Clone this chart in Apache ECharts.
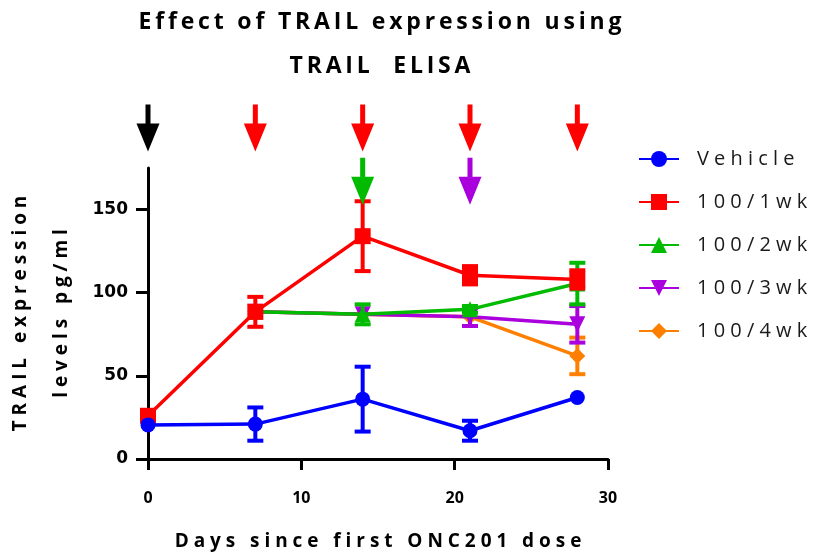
<!DOCTYPE html>
<html>
<head>
<meta charset="utf-8">
<script src="https://cdn.jsdelivr.net/npm/echarts@6/dist/echarts.min.js"></script>
<style>html,body{margin:0;padding:0;background:#fff;}#c{width:825px;height:553px;}</style>
</head>
<body>
<div id="c"></div>
<script>
// ---- data ----
const seriesNames = ['Vehicle', '100/1wk', '100/2wk', '100/3wk', '100/4wk'];
const vehicleDays = [0, 7, 14, 21, 28];
const vehicleMean = [20.5, 21, 36, 17, 37];
const vehicleSem  = [0, 10, 19.5, 6, 0];
const wk1Days = [0, 7, 14, 21, 28];
const wk1Mean = [26, 88.5, 134, 110.5, 108];
const wk1Sem  = [0, 9, 21, 5.5, 5.5];
const wk2Days = [7, 14, 21, 28];
const wk2Mean = [88.5, 87, 90, 105.5];
const wk2Sem  = [0, 6, 2, 12.5];
const wk3Days = [7, 14, 21, 28];
const wk3Mean = [88.5, 87, 85.5, 81];
const wk3Sem  = [0, 0, 5.5, 11];
const wk4Days = [7, 14, 21, 28];
const wk4Mean = [88.5, 87, 85.5, 62];
const wk4Sem  = [0, 0, 0, 11];
const xTicks = [0, 10, 20, 30];
const yTicks = [0, 50, 100, 150];
// dosing arrows
const doseDaysFirst = [0];
const doseDays1wk = [7, 14, 21, 28];
const doseDays2wk = [14];
const doseDays3wk = [21];

const colors = ['#0000ff', '#ff0000', '#00bb00', '#aa00dd', '#ff8000'];
const symbols = ['circle', 'rect', 'triangle', 'path://M0,0 L10,0 L5,9 Z', 'diamond'];
const zOrder = [7, 6, 5, 4, 3];

const sp = (s, sep) => s.split('').join(sep);
const TS = '\u2009';

const groups = [
  [vehicleDays, vehicleMean, vehicleSem],
  [wk1Days, wk1Mean, wk1Sem],
  [wk2Days, wk2Mean, wk2Sem],
  [wk3Days, wk3Mean, wk3Sem],
  [wk4Days, wk4Mean, wk4Sem]
];

const series = [];
groups.forEach((g, i) => {
  const [d, m, s] = g;
  const errData = [];
  d.forEach((x, k) => { if (s[k] > 0) errData.push([x, m[k] - s[k], m[k] + s[k]]); });
  series.push({
    type: 'custom',
    name: 'err' + i,
    z: zOrder[i],
    silent: true,
    renderItem: function (params, api) {
      const x = api.value(0);
      const p1 = api.coord([x, api.value(1)]);
      const p2 = api.coord([x, api.value(2)]);
      const w = 8;
      const st = { stroke: colors[i], lineWidth: 4 };
      return {
        type: 'group',
        children: [
          { type: 'line', shape: { x1: p1[0], y1: p1[1], x2: p2[0], y2: p2[1] }, style: st },
          { type: 'line', shape: { x1: p1[0] - w, y1: p1[1], x2: p1[0] + w, y2: p1[1] }, style: st },
          { type: 'line', shape: { x1: p2[0] - w, y1: p2[1], x2: p2[0] + w, y2: p2[1] }, style: st }
        ]
      };
    },
    encode: { x: 0, y: [1, 2] },
    data: errData
  });
  series.push({
    type: 'line',
    name: seriesNames[i],
    z: zOrder[i],
    data: d.map((x, k) => [x, m[k]]),
    symbol: symbols[i],
    symbolSize: i === 0 ? 15 : 16,
    showAllSymbol: true,
    lineStyle: { color: colors[i], width: 3.5 },
    itemStyle: { color: colors[i] },
    emphasis: { disabled: true },
    animation: false
  });
});

const arrowPath = 'path://M9,0 L14,0 L14,19 L23,19 L11.5,47 L0,19 L9,19 Z';
const topLevel = 199;
const lowLevel = 167;
function arrowSeries(days, level, color) {
  return {
    type: 'scatter',
    name: 'arrow',
    z: 10,
    silent: true,
    clip: false,
    symbol: arrowPath,
    symbolSize: [23, 47],
    itemStyle: { color: color, opacity: 1 },
    data: days.map(x => [x, level]),
    animation: false
  };
}
series.push(arrowSeries(doseDaysFirst, topLevel, '#000000'));
series.push(arrowSeries(doseDays1wk, topLevel, colors[1]));
series.push(arrowSeries(doseDays2wk, lowLevel, colors[2]));
series.push(arrowSeries(doseDays3wk, lowLevel, colors[3]));

const chart = echarts.init(document.getElementById('c'), null, { renderer: 'canvas' });
chart.setOption({
  animation: false,
  backgroundColor: '#ffffff',
  title: {
    text: sp('Effect of TRAIL expression using', TS) + '\n' + sp('TRAIL  ELISA', TS),
    left: 375,
    top: -5,
    textAlign: 'center',
    textStyle: { fontFamily: 'Open Sans', fontWeight: 'bold', fontSize: 23, lineHeight: 44, color: '#000' }
  },
  legend: {
    data: seriesNames,
    orient: 'vertical',
    left: 633,
    top: 144,
    itemWidth: 40,
    itemHeight: 20,
    itemGap: 23,
    selectedMode: false,
    formatter: n => sp(n, ' '),
    textStyle: { fontFamily: 'Open Sans', fontSize: 20, color: '#1a1a1a', lineHeight: 20, padding: [0, 0, 0, 13] }
  },
  grid: { left: 148, right: 217, top: 168, bottom: 94, containLabel: false, outerBoundsMode: 'none' },
  xAxis: {
    type: 'value',
    min: 0, max: 30, interval: 10,
    name: sp('Days since first ONC201 dose', ' '),
    nameLocation: 'middle',
    nameGap: 73,
    nameTextStyle: { fontFamily: 'Open Sans', fontWeight: 'bold', fontSize: 19, color: '#000' },
    axisLine: { onZero: false, lineStyle: { color: '#000', width: 3 } },
    axisTick: { length: 11, lineStyle: { color: '#000', width: 3 }, customValues: xTicks },
    axisLabel: { margin: 31, fontFamily: 'Open Sans', fontWeight: 'bold', fontSize: 16, color: '#000', customValues: xTicks },
    splitLine: { show: false }
  },
  yAxis: {
    type: 'value',
    min: 0, max: 175,
    name: sp('TRAIL expression', ' ') + '\n' + sp('levels pg/ml', ' '),
    nameLocation: 'middle',
    nameGap: 61,
    nameTextStyle: { fontFamily: 'Open Sans', fontWeight: 'bold', fontSize: 19, color: '#000', lineHeight: 41 },
    axisLine: { show: true, lineStyle: { color: '#000', width: 3 } },
    axisTick: { show: true, length: 12, lineStyle: { color: '#000', width: 3 }, customValues: yTicks },
    axisLabel: { margin: 20, fontFamily: 'DejaVu Sans', fontWeight: 'bold', fontSize: 17, color: '#000', customValues: yTicks },
    splitLine: { show: false }
  },
  series: series
});
</script>
</body>
</html>
